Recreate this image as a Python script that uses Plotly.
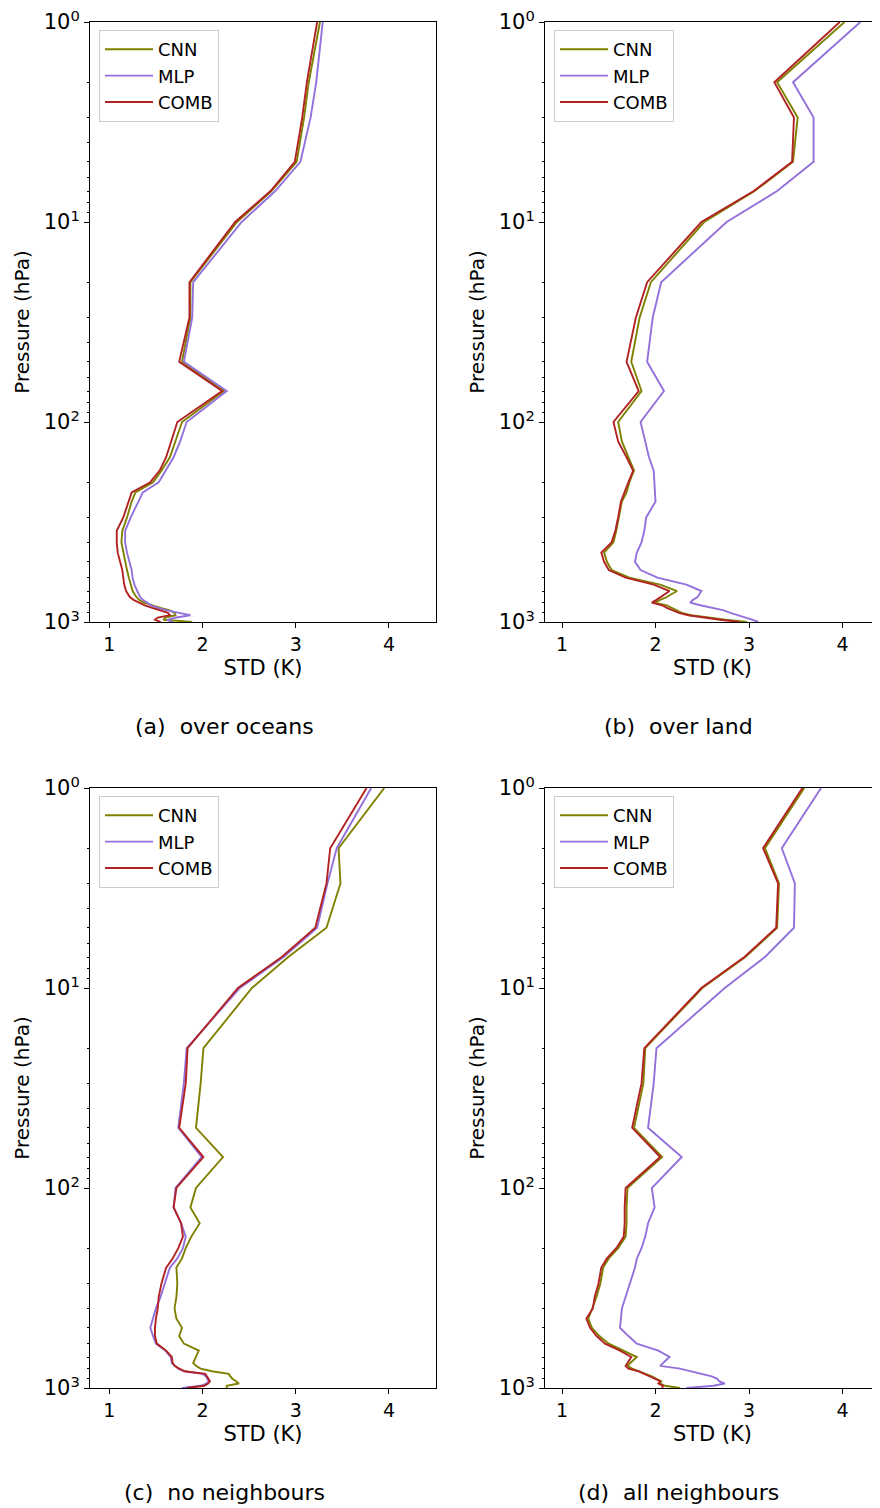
import plotly.graph_objects as go

levels = [1, 2, 3, 5, 7, 10, 20, 30, 50, 70, 100, 125, 150, 175, 200, 225, 250, 300, 350,
          400, 450, 500, 550, 600, 650, 700, 750, 775, 800, 825, 850, 875, 900, 925, 950, 975, 1000]

cnn_oceans = [3.26, 3.14, 3.09, 3.01, 2.74, 2.37, 1.87, 1.87, 1.78, 2.23, 1.78, 1.71, 1.65, 1.56, 1.47, 1.28, 1.24, 1.19, 1.14,
              1.13, 1.15, 1.17, 1.19, 1.21, 1.23, 1.25, 1.29, 1.32, 1.37, 1.45, 1.55, 1.65, 1.70, 1.71, 1.60, 1.58, 1.89]
mlp_oceans = [3.29, 3.22, 3.16, 3.05, 2.78, 2.42, 1.90, 1.89, 1.80, 2.26, 1.83, 1.76, 1.69, 1.60, 1.53, 1.36, 1.31, 1.23, 1.17,
              1.17, 1.19, 1.22, 1.24, 1.25, 1.27, 1.30, 1.33, 1.36, 1.40, 1.45, 1.52, 1.62, 1.75, 1.87, 1.72, 1.62, 1.68]
comb_oceans = [3.23, 3.12, 3.07, 2.99, 2.73, 2.35, 1.86, 1.86, 1.75, 2.21, 1.73, 1.66, 1.61, 1.54, 1.44, 1.24, 1.21, 1.15, 1.08,
               1.08, 1.09, 1.12, 1.14, 1.15, 1.16, 1.18, 1.22, 1.26, 1.32, 1.38, 1.46, 1.56, 1.63, 1.65, 1.52, 1.49, 1.55]

cnn_land = [4.02, 3.30, 3.52, 3.47, 3.06, 2.52, 1.95, 1.83, 1.74, 1.85, 1.60, 1.64, 1.71, 1.77, 1.72, 1.69, 1.64, 1.61, 1.58,
            1.55, 1.45, 1.48, 1.53, 1.72, 2.05, 2.23, 2.12, 2.05, 1.99, 2.12, 2.18, 2.22, 2.28, 2.38, 2.55, 2.75, 2.98]
mlp_land = [4.19, 3.47, 3.69, 3.69, 3.30, 2.76, 2.06, 1.97, 1.91, 2.09, 1.84, 1.89, 1.93, 1.98, 1.99, 2.00, 2.00, 1.90, 1.88,
            1.85, 1.80, 1.78, 1.84, 2.02, 2.33, 2.49, 2.45, 2.40, 2.37, 2.48, 2.60, 2.73, 2.80, 2.88, 2.98, 3.04, 3.10]
comb_land = [3.97, 3.27, 3.48, 3.46, 3.05, 2.49, 1.91, 1.79, 1.69, 1.82, 1.55, 1.60, 1.69, 1.76, 1.71, 1.67, 1.63, 1.60, 1.57,
             1.53, 1.42, 1.45, 1.50, 1.68, 1.98, 2.15, 2.06, 2.01, 1.96, 2.07, 2.12, 2.18, 2.25, 2.35, 2.50, 2.69, 2.90]

cnn_none = [3.95, 3.46, 3.48, 3.33, 2.92, 2.53, 2.01, 1.98, 1.93, 2.22, 1.93, 1.87, 1.97, 1.88, 1.82, 1.78, 1.72, 1.73, 1.72,
            1.70, 1.72, 1.78, 1.75, 1.80, 1.96, 1.93, 1.90, 1.93, 1.98, 2.10, 2.28, 2.30, 2.32, 2.36, 2.39, 2.26, 2.26]
mlp_none = [3.81, 3.44, 3.34, 3.23, 2.87, 2.40, 1.83, 1.80, 1.74, 1.99, 1.71, 1.69, 1.77, 1.82, 1.79, 1.73, 1.65, 1.60, 1.55,
            1.50, 1.47, 1.44, 1.47, 1.50, 1.60, 1.66, 1.67, 1.70, 1.74, 1.80, 2.00, 2.04, 2.05, 2.07, 2.04, 1.98, 1.78]
comb_none = [3.76, 3.37, 3.33, 3.21, 2.85, 2.38, 1.84, 1.82, 1.75, 2.01, 1.72, 1.69, 1.77, 1.79, 1.74, 1.68, 1.61, 1.56, 1.53,
             1.52, 1.50, 1.49, 1.49, 1.51, 1.61, 1.67, 1.68, 1.70, 1.75, 1.81, 2.03, 2.05, 2.06, 2.08, 2.06, 2.02, 1.83]

cnn_all = [3.59, 3.17, 3.32, 3.30, 2.96, 2.50, 1.89, 1.87, 1.77, 2.07, 1.70, 1.69, 1.69, 1.68, 1.60, 1.50, 1.44, 1.41, 1.37,
           1.32, 1.28, 1.32, 1.40, 1.50, 1.66, 1.80, 1.73, 1.70, 1.75, 1.83, 1.90, 1.96, 2.01, 2.06, 2.05, 2.10, 2.26]
mlp_all = [3.77, 3.35, 3.49, 3.48, 3.17, 2.74, 2.01, 1.98, 1.92, 2.28, 1.96, 1.99, 1.92, 1.89, 1.85, 1.80, 1.78, 1.73, 1.68,
           1.64, 1.63, 1.62, 1.71, 1.80, 2.03, 2.15, 2.08, 2.05, 2.26, 2.38, 2.51, 2.60, 2.66, 2.68, 2.74, 2.62, 2.33]
comb_all = [3.57, 3.15, 3.31, 3.29, 2.95, 2.49, 1.88, 1.85, 1.75, 2.05, 1.68, 1.67, 1.67, 1.66, 1.58, 1.48, 1.42, 1.39, 1.35,
            1.33, 1.26, 1.30, 1.37, 1.46, 1.62, 1.74, 1.70, 1.68, 1.71, 1.82, 1.88, 1.94, 1.99, 2.05, 2.03, 2.08, 2.07]

series_names = ["CNN", "MLP", "COMB"]
series_colors = ["#808000", "#9370DB", "#B22222"]
captions = ["(a)  over oceans", "(b)  over land", "(c)  no neighbours", "(d)  all neighbours"]
panels = [
    (cnn_oceans, mlp_oceans, comb_oceans),
    (cnn_land, mlp_land, comb_land),
    (cnn_none, mlp_none, comb_none),
    (cnn_all, mlp_all, comb_all),
]
x_ticks = [1, 2, 3, 4]
y_ticks = [1, 10, 100, 1000]
y_tick_text = ["10<sup>0</sup>", "10<sup>1</sup>", "10<sup>2</sup>", "10<sup>3</sup>"]

# the page places the figure 8 px in from the top-left corner
OFF = 8
W, H = 880 - OFF, 1508 - OFF
FONT = "DejaVu Sans"

# panel pixel boxes in page coordinates: (left, right, top, bottom), x-range
boxes = [
    (90, 436, 22, 622, [0.793, 4.505]),
    (545, 880, 22, 622, [0.818, 4.40]),
    (90, 436, 788, 1388, [0.793, 4.505]),
    (545, 880, 788, 1388, [0.818, 4.40]),
]


def px(v):
    return (v - OFF) / W


def py(v):
    return 1 - (v - OFF) / H


fig = go.Figure()
layout = dict(
    width=W, height=H,
    margin=dict(l=0, r=0, t=0, b=0, autoexpand=False),
    paper_bgcolor="white", plot_bgcolor="white",
    font=dict(family=FONT, size=19, color="black"),
    showlegend=True,
)
annotations = []

for i, (vals, box) in enumerate(zip(panels, boxes)):
    l, r, t, b, xr = box
    xa = "xaxis" if i == 0 else f"xaxis{i+1}"
    ya = "yaxis" if i == 0 else f"yaxis{i+1}"
    xref = "x" if i == 0 else f"x{i+1}"
    yref = "y" if i == 0 else f"y{i+1}"
    leg = "legend" if i == 0 else f"legend{i+1}"
    for name, color, v in zip(series_names, series_colors, vals):
        fig.add_trace(go.Scatter(
            x=v, y=levels, mode="lines", name=name,
            line=dict(color=color, width=1.9),
            xaxis=xref, yaxis=yref, legend=leg,
        ))
    right_edge = r >= 880
    layout[xa] = dict(
        domain=[px(l), min(1.0, px(r))], range=xr, anchor=yref, automargin=False,
        tickmode="array", tickvals=x_ticks, ticktext=[str(v) for v in x_ticks],
        ticks="outside", ticklen=5, tickwidth=1, tickcolor="black",
        showline=True, linecolor="black", linewidth=1, mirror=True,
        showgrid=False, zeroline=False, ticklabeloverflow="allow",
        tickfont=dict(size=19, family=FONT),
        title=dict(text="STD (K)", font=dict(size=21, family=FONT), standoff=6),
    )
    layout[ya] = dict(
        domain=[py(b), py(t)], type="log", range=[3, 0], anchor=xref, automargin=False,
        tickmode="array", tickvals=y_ticks, ticktext=y_tick_text,
        ticks="outside", ticklen=5, tickwidth=1, tickcolor="black",
        minor=dict(ticks="outside", ticklen=2.5, tickcolor="black",
                   tickvals=[m * d for d in [1, 10, 100] for m in range(2, 10)]),
        showline=True, linecolor="black", linewidth=1, mirror=not right_edge,
        showgrid=False, zeroline=False, ticklabeloverflow="allow",
        tickfont=dict(size=21, family=FONT),
        title=dict(text="Pressure (hPa)", font=dict(size=20, family=FONT), standoff=8),
    )
    layout[leg] = dict(
        x=px(l + 9), y=py(t + 8), xanchor="left", yanchor="top",
        bgcolor="rgba(255,255,255,0.8)", bordercolor="#cccccc", borderwidth=1,
        font=dict(size=18, family=FONT), tracegroupgap=0, itemwidth=48,
    )
    annotations.append(dict(
        text=captions[i], xref="paper", yref="paper",
        x=px(224 if l < 400 else 678), y=py(t + 704),
        xanchor="center", yanchor="middle", showarrow=False,
        font=dict(size=22, family=FONT),
    ))

layout["annotations"] = annotations
fig.update_layout(**layout)
fig.write_html("out.html")
